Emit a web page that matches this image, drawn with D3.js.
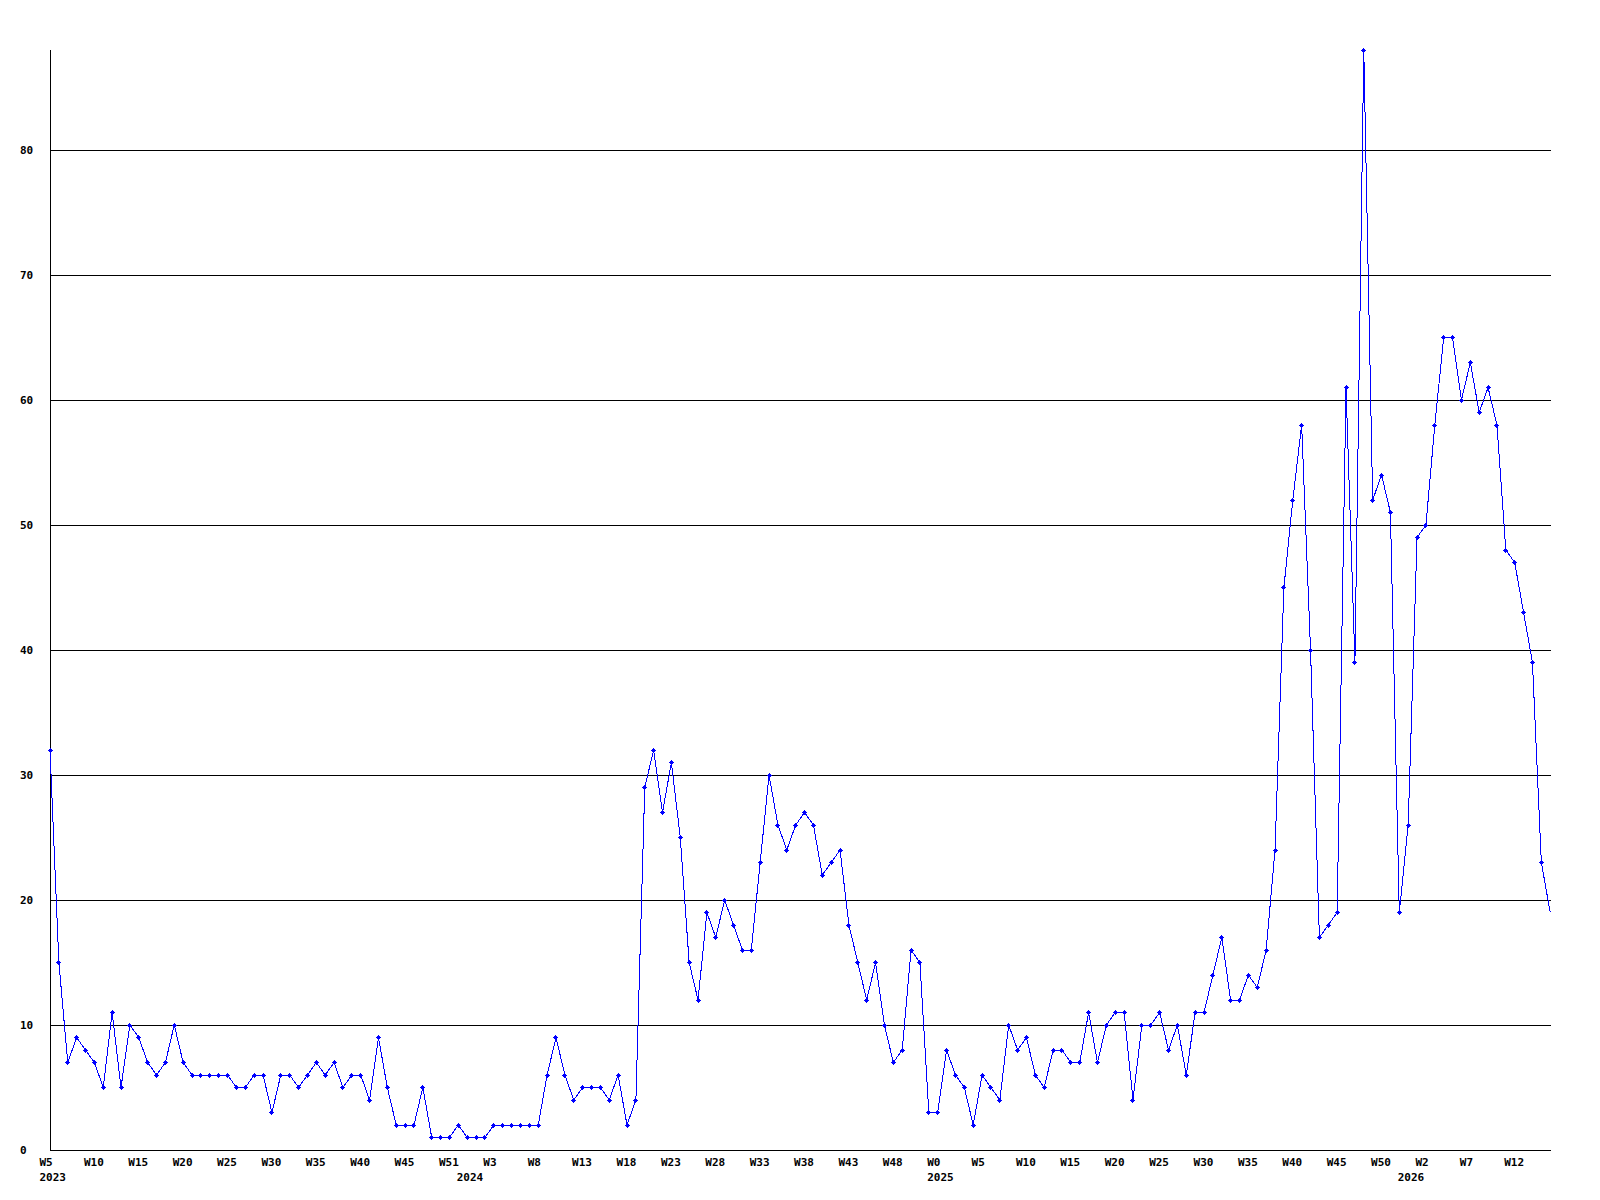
<!DOCTYPE html>
<html>
<head>
<meta charset="utf-8">
<script src="https://cdn.jsdelivr.net/npm/d3@7"></script>
<style>
  body { margin: 0; background: #fff; }
  svg { display: block; }
  text { font-family: "DejaVu Sans Mono", "Liberation Mono", monospace; font-weight: bold; font-size: 11px; fill: #000; }
</style>
</head>
<body>
<script>
'use strict';

// weekly values, 2023 W5 .. 2026 ~W16
let values = [
  32, 15, 7, 9, 8, 7, 5, 11, 5, 10, 9, 7, 6, 7, 10, 7, 6, 6, 6, 6,
  6, 5, 5, 6, 6, 3, 6, 6, 5, 6, 7, 6, 7, 5, 6, 6, 4, 9, 5, 2,
  2, 2, 5, 1, 1, 1, 2, 1, 1, 1, 2, 2, 2, 2, 2, 2, 6, 9, 6, 4,
  5, 5, 5, 4, 6, 2, 4, 29, 32, 27, 31, 25, 15, 12, 19, 17, 20, 18, 16, 16,
  23, 30, 26, 24, 26, 27, 26, 22, 23, 24, 18, 15, 12, 15, 10, 7, 8, 16, 15, 3,
  3, 8, 6, 5, 2, 6, 5, 4, 10, 8, 9, 6, 5, 8, 8, 7, 7, 11, 7, 10,
  11, 11, 4, 10, 10, 11, 8, 10, 6, 11, 11, 14, 17, 12, 12, 14, 13, 16, 24, 45,
  52, 58, 40, 17, 18, 19, 61, 39, 88, 52, 54, 51, 19, 26, 49, 50, 58, 65, 65, 60,
  63, 59, 61, 58, 48, 47, 43, 39, 23, 19
];

let weekTicks = [0, 5, 10, 15, 20, 25, 30, 35, 40, 45, 50, 55, 60, 65, 70, 75, 80, 85, 90, 95,
  100, 105, 110, 115, 120, 125, 130, 135, 140, 145, 150, 155, 160, 165];
let weekLabels = ['W5', 'W10', 'W15', 'W20', 'W25', 'W30', 'W35', 'W40', 'W45', 'W51',
  'W3', 'W8', 'W13', 'W18', 'W23', 'W28', 'W33', 'W38', 'W43', 'W48',
  'W0', 'W5', 'W10', 'W15', 'W20', 'W25', 'W30', 'W35', 'W40', 'W45',
  'W50', 'W2', 'W7', 'W12'];

let yearTicks = [0, 47, 100, 153];
let yearLabels = ['2023', '2024', '2025', '2026'];

let yTicks = [0, 10, 20, 30, 40, 50, 60, 70, 80];

let svg = d3.select('body').append('svg')
  .attr('width', 1600)
  .attr('height', 1200);

svg.append('rect').attr('width', 1600).attr('height', 1200).attr('fill', '#fff');

let xScale = d3.scaleLinear()
  .domain([0, values.length - 1])
  .range([50, 50 + (values.length - 1) * 8.877]);

let yScale = d3.scaleLinear()
  .domain([0, 88])
  .range([1150, 50]);

// grid lines
svg.append('g').selectAll('line')
  .data(yTicks.filter(d => d > 0))
  .enter()
  .append('line')
    .attr('x1', 50)
    .attr('x2', 1551)
    .attr('y1', d => Math.round(yScale(d)) + 0.5)
    .attr('y2', d => Math.round(yScale(d)) + 0.5)
    .attr('stroke', '#000')
    .attr('shape-rendering', 'crispEdges');

// y labels, left aligned at x=20
let yAxis = d3.axisRight(yScale).tickValues(yTicks).tickSize(0).tickPadding(0);
let yg = svg.append('g')
  .attr('transform', 'translate(20, 0)')
  .call(yAxis);
yg.select('.domain').remove();
yg.selectAll('text').attr('dy', '0.32em');

// x labels
let xAxis = d3.axisBottom(xScale)
  .tickValues(weekTicks)
  .tickSize(0)
  .tickPadding(0)
  .tickFormat((d, i) => weekLabels[i]);
let xg = svg.append('g')
  .attr('transform', 'translate(0, 1150)')
  .call(xAxis);
xg.select('.domain').remove();
xg.selectAll('text')
  .attr('text-anchor', 'start')
  .attr('dx', -11)
  .attr('dy', 0)
  .attr('y', 16);

let yearAxis = d3.axisBottom(xScale)
  .tickValues(yearTicks)
  .tickSize(0)
  .tickPadding(0)
  .tickFormat((d, i) => yearLabels[i]);
let yrg = svg.append('g')
  .attr('transform', 'translate(0, 1150)')
  .call(yearAxis);
yrg.select('.domain').remove();
yrg.selectAll('text')
  .attr('text-anchor', 'start')
  .attr('dx', -11)
  .attr('dy', 0)
  .attr('y', 31);

// axis lines
svg.append('line')
  .attr('x1', 50.5).attr('x2', 50.5)
  .attr('y1', yScale(88)).attr('y2', yScale(0) + 1)
  .attr('stroke', '#000')
  .attr('shape-rendering', 'crispEdges');
svg.append('line')
  .attr('x1', 50).attr('x2', 1551)
  .attr('y1', yScale(0) + 0.5).attr('y2', yScale(0) + 0.5)
  .attr('stroke', '#000')
  .attr('shape-rendering', 'crispEdges');

// data line
let line = d3.line()
  .x((d, i) => xScale(i))
  .y(d => yScale(d));

svg.append('path')
  .datum(values)
  .attr('d', line)
  .attr('fill', 'none')
  .attr('stroke', '#0000ff')
  .attr('stroke-width', 1)
  .attr('shape-rendering', 'crispEdges');

// markers (last point has none)
let plus = 'M-2.5,-0.5h5v1h-5z M-0.5,-2.5h1v5h-1z M-1.5,-1.5h3v3h-3z';
svg.append('g').selectAll('path')
  .data(values.slice(0, values.length - 1))
  .enter()
  .append('path')
    .attr('d', plus)
    .attr('transform', (d, i) => 'translate(' + xScale(i) + ',' + yScale(d) + ')')
    .attr('fill', '#0000ff')
    .attr('shape-rendering', 'crispEdges');
</script>
</body>
</html>
